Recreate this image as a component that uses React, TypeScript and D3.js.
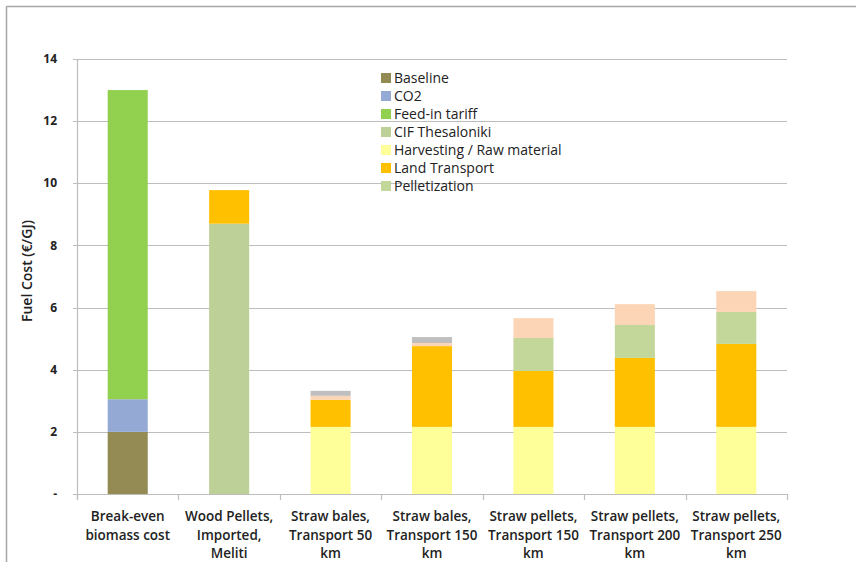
import React from "react";
import * as d3 from "d3";

const categories: string[][] = [
  ["Break-even", "biomass cost"],
  ["Wood Pellets,", "Imported,", "Meliti"],
  ["Straw bales,", "Transport 50", "km"],
  ["Straw bales,", "Transport 150", "km"],
  ["Straw pellets,", "Transport 150", "km"],
  ["Straw pellets,", "Transport 200", "km"],
  ["Straw pellets,", "Transport 250", "km"],
];

const seriesNames = [
  "Baseline",
  "CO2",
  "Feed-in tariff",
  "CIF Thesaloniki",
  "Harvesting / Raw material",
  "Land Transport",
  "Pelletization",
  "Other A",
  "Other B",
];
const legendNames = seriesNames.slice(0, 7);

const baseline = [2.0, 0, 0, 0, 0, 0, 0];
const co2 = [1.05, 0, 0, 0, 0, 0, 0];
const feedIn = [9.95, 0, 0, 0, 0, 0, 0];
const cif = [0, 8.7, 0, 0, 0, 0, 0];
const harvesting = [0, 0, 2.16, 2.16, 2.16, 2.16, 2.16];
const landTransport = [0, 1.08, 0.87, 2.6, 1.8, 2.22, 2.67];
const pelletization = [0, 0, 0, 0, 1.06, 1.06, 1.03];
const otherA = [0, 0, 0.13, 0.1, 0.64, 0.67, 0.67];
const otherB = [0, 0, 0.16, 0.19, 0, 0, 0];

const seriesValues = [baseline, co2, feedIn, cif, harvesting, landTransport, pelletization, otherA, otherB];
const seriesColors = [
  "#948a54",
  "#95a9d5",
  "#92d050",
  "#bcd097",
  "#ffff99",
  "#ffc000",
  "#c4d79b",
  "#fbd5b5",
  "#bfbfbf",
];

const yTicks = [0, 2, 4, 6, 8, 10, 12, 14];

const W = 856;
const H = 562;
const left = 77;
const right = 787;
const top = 59;
const bottom = 494;

export default function App() {
  const idx = categories.map((_, i) => i);
  const xSlot = d3.scaleBand<number>().domain(idx).range([left, right]).padding(0);
  const xBar = d3
    .scaleBand<number>()
    .domain(idx)
    .range([left, right])
    .paddingInner(0.605)
    .paddingOuter(0.3025);
  const y = d3.scaleLinear().domain([0, 14]).range([bottom, top]);

  const table = idx.map((i) => {
    const row: Record<string, number> = { i };
    seriesNames.forEach((n, s) => (row[n] = seriesValues[s][i]));
    return row;
  });
  const stacked = d3.stack<Record<string, number>>().keys(seriesNames)(table);

  const font = "'Open Sans', 'DejaVu Sans', sans-serif";

  return (
    <svg
      width={W}
      height={H}
      style={{ position: "absolute", left: 0, top: 0, background: "#fff" }}
      fontFamily={font}
    >
      {/* frame */}
      <line x1={6.5} y1={6.5} x2={W} y2={6.5} stroke="#a6a6a6" strokeWidth={1.5} />
      <line x1={6.5} y1={6.5} x2={6.5} y2={H} stroke="#a6a6a6" strokeWidth={1.5} />

      {/* gridlines */}
      {yTicks
        .filter((t) => t > 0)
        .map((t) => (
          <line
            key={t}
            x1={left - 4}
            x2={right}
            y1={Math.round(y(t)) + 0.5}
            y2={Math.round(y(t)) + 0.5}
            stroke="#bdbdbd"
            strokeWidth={1.2}
          />
        ))}

      {/* bars */}
      {stacked.map((layer, s) => (
        <g key={layer.key} fill={seriesColors[s]}>
          {layer.map((d, i) =>
            d[1] - d[0] > 0 ? (
              <rect
                key={i}
                x={xBar(i)!}
                width={xBar.bandwidth()}
                y={y(d[1])}
                height={y(d[0]) - y(d[1])}
              />
            ) : null
          )}
        </g>
      ))}

      {/* axes */}
      <line x1={left + 0.5} x2={left + 0.5} y1={top} y2={bottom + 6} stroke="#bdbdbd" strokeWidth={1.2} />
      <line x1={left - 4} x2={right} y1={bottom + 0.5} y2={bottom + 0.5} stroke="#bdbdbd" strokeWidth={1.2} />
      {idx.concat([idx.length]).map((i) => {
        const xx = i < idx.length ? xSlot(i)! : right;
        return (
          <line
            key={i}
            x1={Math.round(xx) + 0.5}
            x2={Math.round(xx) + 0.5}
            y1={bottom}
            y2={bottom + 6}
            stroke="#bdbdbd"
            strokeWidth={1.2}
          />
        );
      })}

      {/* y tick labels */}
      {yTicks.map((t) => (
        <text
          key={t}
          x={57}
          y={y(t)}
          dy="0.35em"
          textAnchor="end"
          fontSize={12}
          fontWeight={700}
          fill="#222"
        >
          {t === 0 ? "-" : t}
        </text>
      ))}

      {/* y title */}
      <text
        transform={`translate(32, 271) rotate(-90)`}
        textAnchor="middle"
        fontSize={14}
        fontWeight={600}
        fill="#222"
      >
        Fuel Cost (€/GJ)
      </text>

      {/* category labels */}
      {categories.map((lines, i) => (
        <text
          key={i}
          x={xSlot(i)! + xSlot.bandwidth() / 2}
          y={521}
          textAnchor="middle"
          fontSize={13.5}
          fontWeight={600}
          fill="#222"
        >
          {lines.map((l, k) => (
            <tspan key={k} x={xSlot(i)! + xSlot.bandwidth() / 2} dy={k === 0 ? 0 : 18.5}>
              {l}
            </tspan>
          ))}
        </text>
      ))}

      {/* legend */}
      {legendNames.map((n, s) => (
        <g key={n} transform={`translate(381, ${78 + s * 18})`}>
          <rect x={0} y={-5} width={10} height={10} fill={seriesColors[s]} />
          <text x={13} y={0} dy="0.35em" fontSize={14} fill="#222">
            {n}
          </text>
        </g>
      ))}
    </svg>
  );
}
